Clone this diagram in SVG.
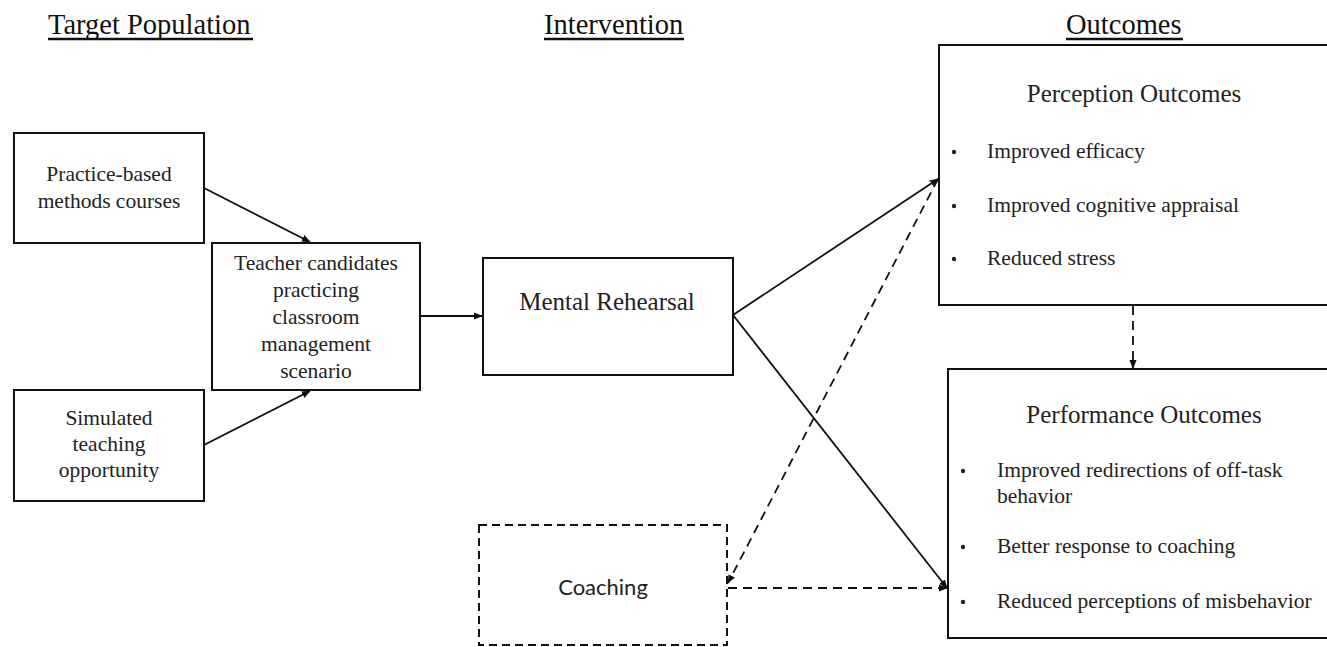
<svg xmlns="http://www.w3.org/2000/svg" width="1327" height="647" viewBox="0 0 1327 647">
<style>
.box{fill:#fff;stroke:#111;stroke-width:2}
.dbox{fill:#fff;stroke:#111;stroke-width:2;stroke-dasharray:8 5}
.t{font-family:"Liberation Serif","Times New Roman",serif;fill:#222;font-size:21.5px}
.big{font-size:25px}
.head{font-family:"Liberation Serif","Times New Roman",serif;fill:#111;font-size:28.5px}
.c{text-anchor:middle}
.sans{font-family:Lato,"Open Sans",sans-serif;fill:#222;font-size:22px}
.ln{stroke:#111;stroke-width:1.8;fill:none}
.dl{stroke:#111;stroke-width:1.8;fill:none;stroke-dasharray:9 6}
.ul{stroke:#111;stroke-width:2.5}
</style>
<defs>
<marker id="ah" viewBox="0 0 10 10" refX="9" refY="5" markerWidth="9" markerHeight="9" markerUnits="userSpaceOnUse" orient="auto">
<path d="M0,1 L10,5 L0,9 z" fill="#111"/>
</marker>
</defs>
<rect width="1327" height="647" fill="#fff"/>
<g id="headers">
<text class="head" x="48" y="34">Target Population</text>
<line class="ul" x1="48" y1="39" x2="253" y2="39"/>
<text class="head" x="544" y="34">Intervention</text>
<line class="ul" x1="544" y1="39" x2="684" y2="39"/>
<text class="head" x="1066" y="34">Outcomes</text>
<line class="ul" x1="1066" y1="39" x2="1183" y2="39"/>
</g>
<g id="practice">
<rect class="box" x="14" y="133" width="190" height="110"/>
<text class="t c" x="109" y="181">Practice-based</text>
<text class="t c" x="109" y="208">methods courses</text>
</g>
<g id="simulated">
<rect class="box" x="14" y="390" width="190" height="111"/>
<text class="t c" x="109" y="425">Simulated</text>
<text class="t c" x="109" y="451">teaching</text>
<text class="t c" x="109" y="477">opportunity</text>
</g>
<g id="teacher">
<rect class="box" x="212" y="243" width="208" height="147"/>
<text class="t c" x="316" y="270">Teacher candidates</text>
<text class="t c" x="316" y="297">practicing</text>
<text class="t c" x="316" y="324">classroom</text>
<text class="t c" x="316" y="351">management</text>
<text class="t c" x="316" y="378">scenario</text>
</g>
<g id="mental">
<rect class="box" x="483" y="258" width="250" height="117"/>
<text class="t big c" x="607" y="310">Mental Rehearsal</text>
</g>
<g id="coaching">
<rect class="dbox" x="479" y="525" width="248" height="120"/>
<text class="sans c" x="603" y="595">Coaching</text>
</g>
<g id="perception">
<rect class="box" x="939" y="45" width="400" height="260"/>
<text class="t big c" x="1134" y="102">Perception Outcomes</text>
<circle cx="954" cy="152" r="2.2" fill="#222"/>
<text class="t" x="987" y="158">Improved efficacy</text>
<circle cx="954" cy="206" r="2.2" fill="#222"/>
<text class="t" x="987" y="212">Improved cognitive appraisal</text>
<circle cx="954" cy="259" r="2.2" fill="#222"/>
<text class="t" x="987" y="265">Reduced stress</text>
</g>
<g id="performance">
<rect class="box" x="948" y="369" width="400" height="269"/>
<text class="t big c" x="1144" y="423">Performance Outcomes</text>
<circle cx="963" cy="471" r="2.2" fill="#222"/>
<text class="t" x="997" y="477">Improved redirections of off-task</text>
<text class="t" x="997" y="503">behavior</text>
<circle cx="963" cy="547" r="2.2" fill="#222"/>
<text class="t" x="997" y="553">Better response to coaching</text>
<circle cx="963" cy="602" r="2.2" fill="#222"/>
<text class="t" x="997" y="608">Reduced perceptions of misbehavior</text>
</g>
<g id="connectors">
<line class="ln" x1="204" y1="188" x2="310" y2="242" marker-end="url(#ah)"/>
<line class="ln" x1="204" y1="445" x2="310" y2="391" marker-end="url(#ah)"/>
<line class="ln" x1="420" y1="316" x2="482" y2="316" marker-end="url(#ah)"/>
<line class="ln" x1="733" y1="315" x2="938" y2="179" marker-end="url(#ah)"/>
<line class="ln" x1="733" y1="315" x2="947" y2="588" marker-end="url(#ah)"/>
<line class="dl" x1="938" y1="179" x2="728" y2="583" marker-end="url(#ah)"/>
<line class="dl" x1="728" y1="588" x2="947" y2="588" marker-end="url(#ah)"/>
<line class="dl" x1="1133" y1="306" x2="1133" y2="368" marker-end="url(#ah)"/>
</g>
</svg>
